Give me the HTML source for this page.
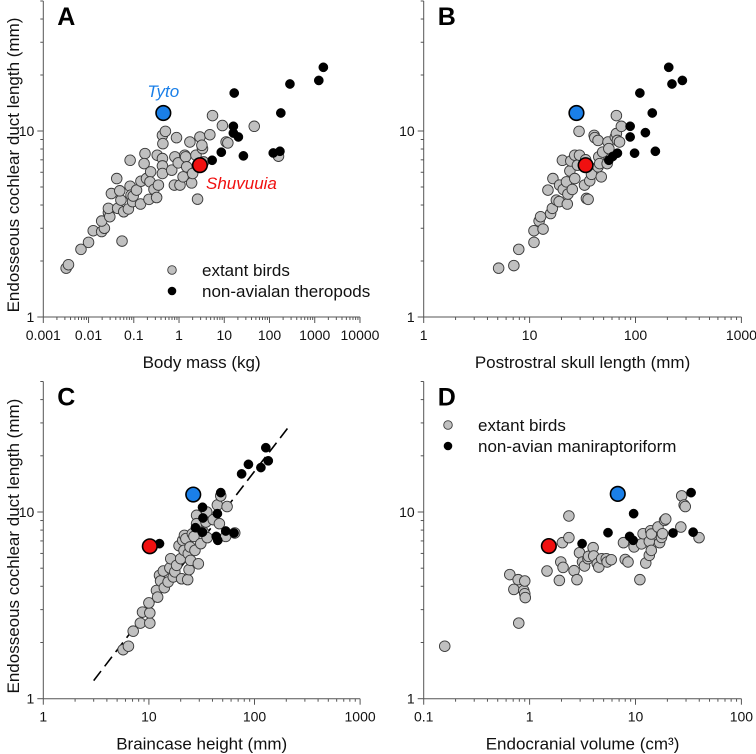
<!DOCTYPE html>
<html><head><meta charset="utf-8"><style>
html,body{margin:0;padding:0;background:#fff}
svg{display:block;font-family:"Liberation Sans",Arial,sans-serif}
</style></head><body>
<svg id="fig" width="756" height="754" viewBox="0 0 756 754"></svg>
<script>
// Panel A: body mass (kg) vs cochlear duct length (mm)
const aBirdX=[0.0032,0.0036,0.0068,0.01,0.0127,0.0195,0.0224,0.0195,0.0275,0.0295,0.0275,0.032,0.044,0.052,0.049,0.042,0.060,0.055,0.076,0.083,0.087,0.094,0.097,0.115,0.141,0.083,0.144,0.177,0.169,0.191,0.217,0.236,0.228,0.28,0.32,0.33,0.35,0.43,0.43,0.43,0.43,0.50,0.44,0.81,0.88,0.69,0.79,0.96,1.05,1.23,1.34,1.4,1.48,1.74,1.9,2.0,2.37,2.57,2.9,3.3,3.5,3.2,4.8,5.5,9.1,11,12,46,158];
const aBirdY=[1.83,1.91,2.31,2.52,2.91,2.88,3.0,3.28,3.64,3.46,3.84,4.61,3.84,4.25,4.77,5.55,3.68,2.56,3.81,5.05,4.52,4.17,4.47,4.81,4.05,6.96,5.37,7.56,6.68,5.55,4.29,6.03,5.33,4.85,4.39,7.41,5.12,7.11,6.49,5.91,9.48,9.96,8.55,7.26,9.21,6.16,5.12,6.74,5.12,5.67,7.41,7.26,6.42,8.73,5.26,5.91,7.41,4.30,9.29,8.04,6.82,8.38,9.55,12.1,10.7,8.73,8.63,10.6,7.32];
const aTheroX=[5.4,8.6,16.6,15.9,15.9,20.5,26.5,121,170,178,283,1230,1550];
const aTheroY=[6.96,7.69,16.0,10.6,9.75,9.29,7.35,7.62,7.78,12.5,17.9,18.7,22.0];
const aTyto=[0.45,12.5], aShuv=[2.9,6.55];
// Panel B: postrostral skull length (mm)
const bBirdX=[5.1,7.1,7.9,11,11,12.3,13.4,12.7,14.9,15.8,16.6,16.4,17.9,19.2,19,20.4,20.8,22.3,22.7,23,24,24.5,25.3,26.7,26.7,28.3,29.3,29.6,33,33.8,34.4,35.7,37,38.4,40.7,41.3,44.3,44.3,45,45.9,47.5,49,55,54,56,64.5,66,66,67.5,70.7,73.5];
const bBirdY=[1.83,1.89,2.31,2.52,2.91,3.28,2.97,3.46,4.81,3.6,5.55,3.84,4.25,5.12,4.17,6.96,4.85,5.33,4.05,4.58,6.1,6.9,4.85,5.55,7.41,6.55,9.96,7.41,5.12,7.0,4.34,4.29,5.4,5.85,9.48,9.21,8.9,6.42,7.26,6.68,5.67,7.7,8.73,6.68,8.04,9.29,12.1,9.69,8.9,8.73,10.6];
const bTheroX=[56,61,67.5,89,89,98,110,124,144,154,206,221,277];
const bTheroY=[6.96,7.3,7.6,10.6,9.29,7.6,16.0,9.8,12.5,7.78,22.0,17.9,18.7];
const bTyto=[27.7,12.5], bShuv=[33.8,6.55];
// Panel C: braincase height (mm)
const cBirdX=[5.7,6.4,7.1,8.3,8.7,10.2,10.2,10,11.8,12.1,12.6,12.9,13.7,14,15.2,15.8,16.1,17,17.6,18.3,19.3,20,20.4,20.9,21.5,21.7,22.4,23.3,23.6,24,24.5,24.8,25.8,26.7,27.3,28.3,28.3,29.4,31,32.8,34.7,35.7,35.3,40.7,44.5,46.5,47.9,53.4,55,65];
const cBirdY=[1.83,1.91,2.30,2.54,2.91,2.54,2.88,3.26,3.8,3.5,4.58,4.27,4.83,3.93,4.22,5.02,5.62,4.49,4.78,5.18,6.6,5.62,4.39,7.05,6.23,7.5,7.2,4.34,5.98,4.91,6.5,5.51,7.65,7.4,6.23,9.6,8.66,5.28,6.77,7.8,8.84,7.29,10,9.1,10.9,8.66,12.2,7.4,10.7,7.72];
const cTheroX=[12.6,27.6,32.2,32.5,32.2,43.4,44.9,44.5,47.9,53.4,64,75.5,87.6,115,128,135];
const cTheroY=[6.77,8.24,10.6,9.29,7.8,7.4,7.05,9.8,12.7,7.91,7.72,16.0,18.0,17.3,22.1,18.8];
const cTyto=[26.3,12.4], cShuv=[10.2,6.55];
const cFitRange=[3,205], cFitCoef=[0.557,0.736];
// Panel D: endocranial volume (cm3)
const dBirdX=[0.158,0.65,0.71,0.79,0.78,0.88,0.90,0.90,0.91,1.46,1.91,1.97,2.04,2.07,2.35,2.35,2.63,2.8,2.96,3.16,3.3,3.56,3.6,3.98,4.03,4.36,4.5,4.8,5.3,5.4,5.9,7.7,8.0,8.5,9.7,11,11.4,11.8,12.5,13.5,13.5,13.9,14.1,14.1,16.3,16.9,17.6,18,18.8,19.3,26.8,27.3,28.8,29.5,39.8];
const dBirdY=[1.91,4.62,3.85,2.54,4.34,3.8,4.27,3.65,3.48,4.83,4.30,5.4,6.85,5.05,9.52,7.29,4.85,4.34,6.05,5.4,5.14,5.62,5.79,6.44,5.81,5.29,5.07,5.62,5.62,5.4,5.55,6.85,5.57,5.4,6.5,4.34,6.75,7.65,5.33,6.96,5.86,7.94,6.23,7.62,8.31,6.85,7.31,7.65,9.02,9.17,8.31,12.2,10.9,10.7,7.29];
const dTheroX=[3.13,5.5,8.8,9.5,9.6,22.6,33.5,35];
const dTheroY=[6.77,7.75,7.4,7.05,9.8,7.72,12.7,7.8];
const dTyto=[6.8,12.5], dShuv=[1.52,6.57];

const xTicksA=["0.001","0.01","0.1","1","10","100","1000","10000"];
const xTicksB=["1","10","100","1000"];
const xTicksD=["0.1","1","10","100"];
const yTicks=["1","10"];

const NS="http://www.w3.org/2000/svg";
const svg=document.getElementById('fig');
function mk(tag,attrs,parent,txt){const e=document.createElementNS(NS,tag);for(const k in attrs)e.setAttribute(k,attrs[k]);if(txt!==undefined)e.textContent=txt;(parent||svg).appendChild(e);return e;}

function panel(cfg){
  const g=mk('g',{});
  
  
  const xs=v=>cfg.x0+(Math.log10(v)-cfg.xmin)*cfg.xdec;
  const ys=v=>cfg.y1-Math.log10(v)*cfg.ydec;
  const xEnd=cfg.x0+(cfg.xmax-cfg.xmin)*cfg.xdec, yTop=ys(50);
  const ax=mk('line',{x1:cfg.x0,y1:cfg.y1,x2:xEnd,y2:cfg.y1,stroke:'#555','stroke-width':1},g);
  
  const ay=mk('line',{x1:cfg.x0,y1:cfg.y1,x2:cfg.x0,y2:yTop,stroke:'#555','stroke-width':1},g);
  
  for(let d=cfg.xmin;d<=cfg.xmax;d++){
    for(let m=1;m<=9;m++){
      if(d===cfg.xmax&&m>1)break;
      const x=xs(m*Math.pow(10,d));
      mk('line',{x1:x,y1:cfg.y1,x2:x,y2:cfg.y1+(m===1?6:3),stroke:'#555','stroke-width':1},g);
    }
  }
  cfg.xt.forEach((t,i)=>{
    const l=mk('text',{x:xs(Math.pow(10,cfg.xmin+i)),y:cfg.y1+23,'font-size':14,'text-anchor':'middle',fill:'#111'},g,t);
    
  });
  [1,2,3,4,5,6,7,8,9,10,20,30,40,50].forEach(v=>{
    const y=ys(v);const maj=(v===1||v===10);
    mk('line',{x1:cfg.x0,y1:y,x2:cfg.x0-(maj?6:3),y2:y,stroke:'#555','stroke-width':1},g);
  });
  yTicks.forEach(t=>{
    const l=mk('text',{x:cfg.x0-9,y:ys(+t)+5,'font-size':14,'text-anchor':'end',fill:'#111'},g,t);
    
  });
  const xt=mk('text',{x:(cfg.x0+xEnd)/2,y:cfg.y1+51,'font-size':17,'text-anchor':'middle',fill:'#111'},g,cfg.xlabel);
  
  if(cfg.ylabel){
    const yt=mk('text',{transform:`translate(19,${(cfg.y1+yTop)/2+6}) rotate(-90)`,'font-size':17,'text-anchor':'middle',fill:'#111'},g,'Endosseous cochlear duct length (mm)');
    
  }
  const lt=mk('text',{x:cfg.x0+14,y:yTop+24,'font-size':25,'font-weight':'bold',fill:'#000'},g,cfg.letter);
  
  if(cfg.fit){
    const [lo,hi]=cfg.fit;
    const f=v=>cFitCoef[0]*Math.pow(v,cFitCoef[1]);
    const fl=mk('line',{x1:xs(lo),y1:ys(f(lo)),x2:xs(hi),y2:ys(f(hi)),stroke:'#000','stroke-width':1.6,'stroke-dasharray':'12 6'},g);
    
  }
  cfg.bx.forEach((v,i)=>{
    const c=mk('circle',{cx:xs(v),cy:ys(cfg.by[i]),r:5.3,fill:'#c0c0c0',stroke:'#3a3a3a','stroke-width':0.9},g);
    
  });
  cfg.tx.forEach((v,i)=>{
    const c=mk('circle',{cx:xs(v),cy:ys(cfg.ty[i]),r:4.6,fill:'#000',stroke:'#000','stroke-width':0.5},g);
    
  });
  const t1=mk('circle',{cx:xs(cfg.tyto[0]),cy:ys(cfg.tyto[1]),r:7.3,fill:'#1a7fe8',stroke:'#000','stroke-width':1.6},g);
  
  const s1=mk('circle',{cx:xs(cfg.shuv[0]),cy:ys(cfg.shuv[1]),r:7.3,fill:'#f01010',stroke:'#000','stroke-width':1.6},g);
  
  if(cfg.names){
    const a=mk('text',{x:xs(cfg.tyto[0]),y:ys(cfg.tyto[1])-16,'font-size':17,'font-style':'italic','text-anchor':'middle',fill:'#1a7fe8'},g,'Tyto');
    
    const b=mk('text',{x:206,y:189,'font-size':17,'font-style':'italic',fill:'#f01010'},g,'Shuvuuia');
    
  }
  if(cfg.legend){
    const [lx,ly,txt2]=cfg.legend;
    const l1=mk('circle',{cx:lx,cy:ly,r:4.3,fill:'#c0c0c0',stroke:'#3a3a3a','stroke-width':0.9},g);
    
    const e1=mk('text',{x:lx+30,y:ly+6,'font-size':17,fill:'#111'},g,'extant birds');
    
    const l2=mk('circle',{cx:lx,cy:ly+21,r:4.3,fill:'#000'},g);
    
    const e2=mk('text',{x:lx+30,y:ly+27,'font-size':17,fill:'#111'},g,txt2);
    
  }
}
panel({letter:'A',x0:43.3,xmin:-3,xmax:4,xdec:45.24,y1:317,ydec:186,xt:xTicksA,xlabel:'Body mass (kg)',ylabel:true,bx:aBirdX,by:aBirdY,tx:aTheroX,ty:aTheroY,tyto:aTyto,shuv:aShuv,names:true,legend:[172,270,'non-avialan theropods']});
panel({letter:'B',x0:423.7,xmin:0,xmax:3,xdec:105.9,y1:317,ydec:186,xt:xTicksB,xlabel:'Postrostral skull length (mm)',ylabel:false,bx:bBirdX,by:bBirdY,tx:bTheroX,ty:bTheroY,tyto:bTyto,shuv:bShuv});
panel({letter:'C',x0:43.3,xmin:0,xmax:3,xdec:105.6,y1:698.7,ydec:186.7,xt:xTicksB,xlabel:'Braincase height (mm)',ylabel:true,bx:cBirdX,by:cBirdY,tx:cTheroX,ty:cTheroY,tyto:cTyto,shuv:cShuv,fit:cFitRange});
panel({letter:'D',x0:423.7,xmin:-1,xmax:2,xdec:105.9,y1:698.7,ydec:186.7,xt:xTicksD,xlabel:'Endocranial volume (cm³)',ylabel:false,bx:dBirdX,by:dBirdY,tx:dTheroX,ty:dTheroY,tyto:dTyto,shuv:dShuv,legend:[448,425,'non-avian maniraptoriform']});
</script>
</body></html>
